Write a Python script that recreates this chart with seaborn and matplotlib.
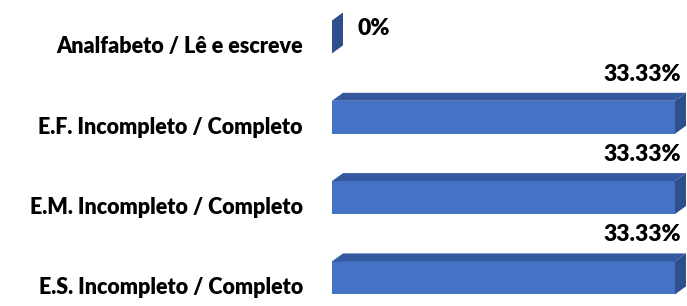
import matplotlib
matplotlib.use("Agg")
import matplotlib.pyplot as plt
import matplotlib.transforms as mtransforms
from matplotlib.patches import Polygon
import seaborn as sns
import pandas as pd

categories = ["Analfabeto / Lê e escreve", "E.F. Incompleto / Completo",
              "E.M. Incompleto / Completo", "E.S. Incompleto / Completo"]
values = [0.0, 33.33, 33.33, 33.33]
labels = ["0%", "33.33%", "33.33%", "33.33%"]

front = "#4472C4"
top = "#34599E"
side = "#2E4F8C"

sns.set_theme(style="white")
plt.rcParams["font.family"] = ["Lato", "DejaVu Sans"]

df = pd.DataFrame({"cat": categories, "val": values})

fig = plt.figure(figsize=(6.87, 3.06), dpi=100)
ax = fig.add_axes([332 / 687, 0, 343 / 687, 1])
sns.barplot(data=df, x="val", y="cat", color=front, saturation=1,
            width=0.41, ax=ax, edgecolor="none")

ax.set_xlim(0, 33.33)
ax.set_ylim(3.35, -0.46)
ax.set_xlabel("")
ax.set_ylabel("")
ax.set_xticks([])
sns.despine(ax=ax, left=True, bottom=True)
ax.tick_params(axis="y", length=0, pad=21)
for lab in ax.get_yticklabels():
    lab.set_fontweight("heavy")
    lab.set_fontsize(15.5)
    lab.set_color("black")
    lab.set_transform(lab.get_transform() +
                      mtransforms.ScaledTranslation(0, -0.08, fig.dpi_scale_trans))

# 3D depth faces (depth in pixels -> data units)
fig.canvas.draw()
x0, x1 = ax.get_xlim()
ppx = ax.bbox.width / (x1 - x0)
ppy = ax.bbox.height / abs(ax.get_ylim()[0] - ax.get_ylim()[1])
dx = 11 / ppx
dy = 8 / ppy
for bar, v, lab in zip(ax.patches, values, labels):
    bx, by = bar.get_x(), bar.get_y()
    bw, bh = bar.get_width(), bar.get_height()
    # top face
    ax.add_patch(Polygon([(bx, by), (bx + bw, by), (bx + bw + dx, by - dy), (bx + dx, by - dy)],
                         closed=True, facecolor=top, edgecolor="none", clip_on=False))
    # side face
    ax.add_patch(Polygon([(bx + bw, by), (bx + bw, by + bh), (bx + bw + dx, by + bh - dy),
                          (bx + bw + dx, by - dy)],
                         closed=True, facecolor=side, edgecolor="none", clip_on=False))
    if v > 0:
        ax.text(bx + bw + dx - 5 / ppx, by - dy - 12 / ppy, lab, ha="right", va="baseline",
                fontsize=16.5, fontweight="heavy", color="black", clip_on=False)
    else:
        ax.text(bx + bw + dx + 15 / ppx, by + bh / 2 - dy, lab, ha="left", va="center",
                fontsize=16.5, fontweight="heavy", color="black", clip_on=False)

fig.savefig("out.png", dpi=100)
